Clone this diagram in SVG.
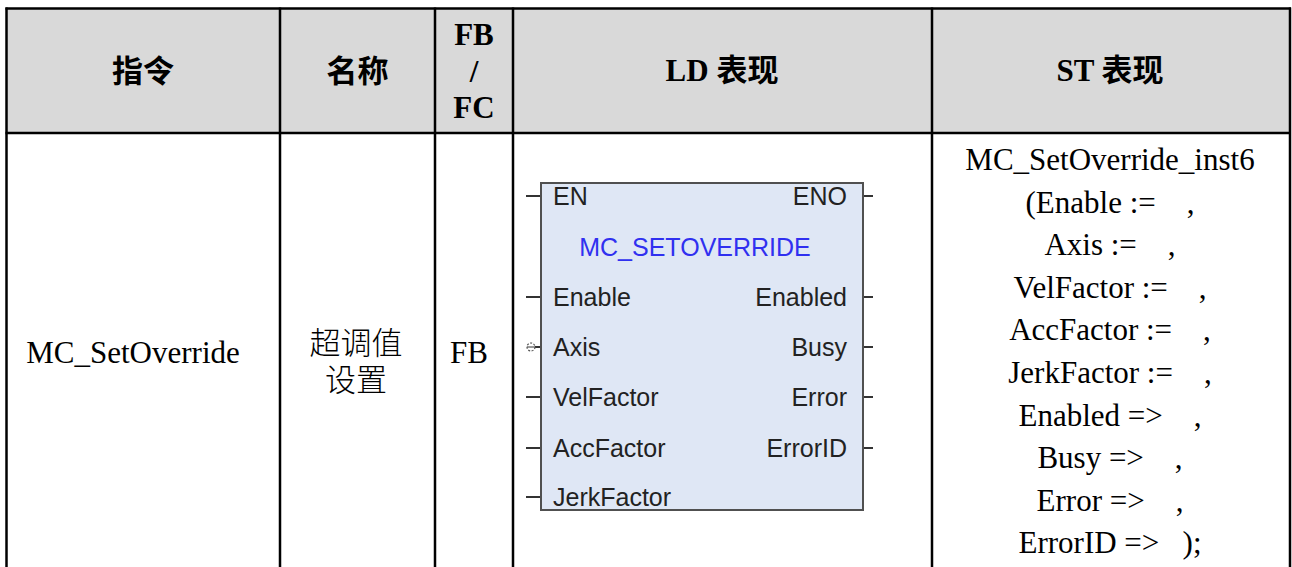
<svg xmlns="http://www.w3.org/2000/svg" width="1292" height="567" viewBox="0 0 1292 567">
<style>
.grid{stroke:#000;stroke-width:2.5;fill:none}
.hd{font-family:"Liberation Serif","Noto Sans CJK SC",serif;font-weight:bold;font-size:31px;fill:#000;text-anchor:middle}
.bd{font-family:"Liberation Serif","Noto Sans CJK SC",serif;font-size:31px;fill:#000;text-anchor:middle}
.cjk{font-family:"Liberation Serif","Noto Sans CJK SC",serif;font-size:31px;fill:#000;text-anchor:middle;font-weight:300}
.st{white-space:pre}
.ld{font-family:"Liberation Sans",Arial,sans-serif;font-size:25px;fill:#222}
.r{text-anchor:end}
.title{fill:#3030f0;text-anchor:middle}
.pin{stroke:#333;stroke-width:2}
.block{fill:#dfe7f5;stroke:#505050;stroke-width:2}
</style>
<rect x="0" y="0" width="1292" height="567" fill="#fff"/>
<g id="table">
  <rect x="6.5" y="8.5" width="1283.5" height="124.5" fill="#d9d9d9"/>
  <line class="grid" x1="5.5" y1="8.5" x2="1291" y2="8.5"/>
  <line class="grid" x1="5.5" y1="133" x2="1291" y2="133"/>
  <line class="grid" x1="6.5" y1="7.5" x2="6.5" y2="567"/>
  <line class="grid" x1="280" y1="7.5" x2="280" y2="567"/>
  <line class="grid" x1="435" y1="7.5" x2="435" y2="567"/>
  <line class="grid" x1="513" y1="7.5" x2="513" y2="567"/>
  <line class="grid" x1="932" y1="7.5" x2="932" y2="567"/>
  <line class="grid" x1="1290" y1="7.5" x2="1290" y2="567"/>
</g>
<g id="header">
  <text class="hd" x="143" y="82">指令</text>
  <text class="hd" x="357.5" y="82">名称</text>
  <text class="hd" x="474" y="45">FB<tspan x="474" y="82">/</tspan><tspan x="474" y="118">FC</tspan></text>
  <text class="hd" x="722" y="81">LD 表现</text>
  <text class="hd" x="1110" y="81">ST 表现</text>
</g>
<g id="row1">
  <text class="bd" x="133" y="363">MC_SetOverride</text>
  <text class="cjk" x="356" y="354">超调值</text>
  <text class="cjk" x="356" y="391">设置</text>
  <text class="bd" x="469" y="363">FB</text>
</g>
<g id="st-code" xml:space="preserve">
  <text class="bd st" x="1110" y="170">MC_SetOverride_inst6</text>
  <text class="bd st" x="1110" y="212.6">(Enable :=    ,</text>
  <text class="bd st" x="1110" y="255.2">Axis :=    ,</text>
  <text class="bd st" x="1110" y="297.8">VelFactor :=    ,</text>
  <text class="bd st" x="1110" y="340.4">AccFactor :=    ,</text>
  <text class="bd st" x="1110" y="383">JerkFactor :=    ,</text>
  <text class="bd st" x="1110" y="425.6">Enabled =>    ,</text>
  <text class="bd st" x="1110" y="468.2">Busy =>    ,</text>
  <text class="bd st" x="1110" y="510.8">Error =>    ,</text>
  <text class="bd st" x="1110" y="553.4">ErrorID =>   );</text>
</g>
<g id="connectors">
  <line class="pin" x1="526" y1="196" x2="541" y2="196"/>
  <line class="pin" x1="526" y1="297" x2="541" y2="297"/>
  <line class="pin" x1="535" y1="347" x2="541" y2="347"/>
  <line class="pin" x1="526" y1="397" x2="541" y2="397"/>
  <line class="pin" x1="526" y1="448" x2="541" y2="448"/>
  <line class="pin" x1="526" y1="497" x2="541" y2="497"/>
  <line class="pin" x1="863" y1="196" x2="873" y2="196"/>
  <line class="pin" x1="863" y1="297" x2="873" y2="297"/>
  <line class="pin" x1="863" y1="347" x2="873" y2="347"/>
  <line class="pin" x1="863" y1="397" x2="873" y2="397"/>
  <line class="pin" x1="863" y1="448" x2="873" y2="448"/>
  <circle cx="531" cy="347" r="4" fill="none" stroke="#555" stroke-width="1.2" stroke-dasharray="2 1.5"/>
  <line x1="527" y1="347" x2="535" y2="347" stroke="#555" stroke-width="1.2"/>
</g>
<g id="fb-block">
  <rect class="block" x="541" y="183" width="322" height="327"/>
  <text class="ld" x="553" y="205">EN</text>
  <text class="ld r" x="847" y="205">ENO</text>
  <text class="ld title" x="695" y="256">MC_SETOVERRIDE</text>
  <text class="ld" x="553" y="306">Enable</text>
  <text class="ld r" x="847" y="306">Enabled</text>
  <text class="ld" x="553" y="356">Axis</text>
  <text class="ld r" x="847" y="356">Busy</text>
  <text class="ld" x="553" y="406">VelFactor</text>
  <text class="ld r" x="847" y="406">Error</text>
  <text class="ld" x="553" y="457">AccFactor</text>
  <text class="ld r" x="847" y="457">ErrorID</text>
  <text class="ld" x="553" y="506">JerkFactor</text>
</g>
</svg>
